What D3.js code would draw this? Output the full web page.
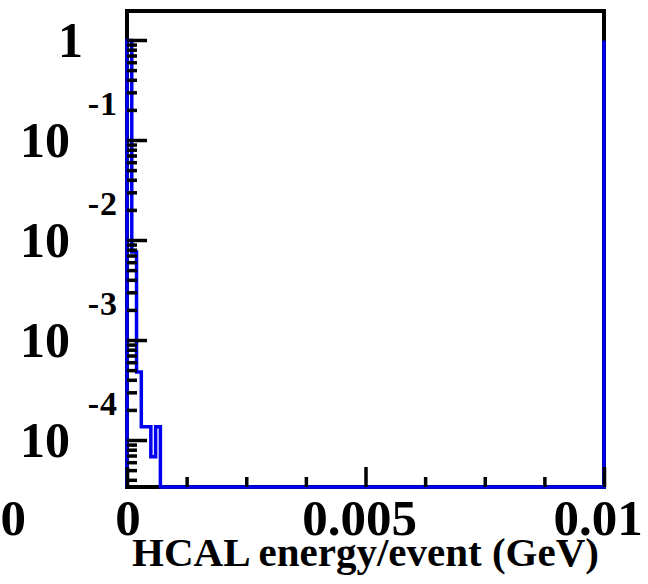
<!DOCTYPE html>
<html>
<head>
<meta charset="utf-8">
<script src="https://cdn.jsdelivr.net/npm/d3@7"></script>
<style>
  html, body { margin: 0; padding: 0; background: #fff; }
  svg { display: block; }
  text { font-family: "Liberation Serif", "Times New Roman", serif; font-weight: bold; fill: #000; }
</style>
</head>
<body>
<svg id="chart" width="648" height="584"></svg>
<script>
// Histogram of HCAL energy per event (normalised), log y axis
const binWidth = 0.0001;                 // GeV
const binStarts = [0, 0.0001, 0.0002, 0.0003, 0.0004, 0.0005, 0.0006];
const binValues = [0.99, 0.0076, 4.8e-4, 1.36e-4, 1.36e-4, 6.8e-5, 1.36e-4];
const histEnd = 0.01;                    // end of histogram range
const rightEdgeValue = 0.99;             // contour level drawn at the range end

const xDomain = [0, 0.01];
const yDomain = [3.39e-5, 1.95];
const xMajorTicks = [0, 0.005, 0.01];
const xTickLabels = ["0", "0.005", "0.01"];
const xMinorTicks = [0.00125, 0.0025, 0.00375, 0.00625, 0.0075, 0.00875];
const yMajorExponents = [0, -1, -2, -3, -4];
const xTitle = "HCAL energy/event (GeV)";

const W = 648, H = 584;
const plot = { left: 127, right: 604, top: 11, bottom: 487 };

const svg = d3.select("#chart");

const x = d3.scaleLinear().domain(xDomain).range([plot.left, plot.right]);
const y = d3.scaleLog().domain(yDomain).range([plot.bottom, plot.top]);

// frame
svg.append("rect")
  .attr("x", plot.left).attr("y", plot.top)
  .attr("width", plot.right - plot.left).attr("height", plot.bottom - plot.top)
  .attr("fill", "none").attr("stroke", "#000").attr("stroke-width", 4);

// histogram contour
const yv = v => y(Math.max(v, yDomain[0]));
const pts = [[x(0), plot.bottom]];
binValues.forEach((v, i) => {
  pts.push([x(binStarts[i]), yv(v)]);
  pts.push([x(binStarts[i] + binWidth), yv(v)]);
});
const lastEdge = binStarts[binStarts.length - 1] + binWidth;
pts.push([x(lastEdge), plot.bottom]);
pts.push([x(histEnd), plot.bottom]);
pts.push([x(histEnd), yv(rightEdgeValue)]);

svg.append("path")
  .attr("d", d3.line()(pts))
  .attr("fill", "none")
  .attr("stroke", "#0000f0")
  .attr("stroke-width", 3.5)
  .attr("stroke-linejoin", "miter");

// y ticks (inside, pointing right)
const yMajor = yMajorExponents.map(e => Math.pow(10, e));
const yMinor = [];
for (let e = -5; e <= 0; e++) {
  for (let m = 2; m <= 9; m++) {
    const v = m * Math.pow(10, e);
    if (v > yDomain[0] && v < yDomain[1]) yMinor.push(v);
  }
}
function styleAxis(g) {
  g.select(".domain").remove();
  g.selectAll(".tick line").attr("stroke", "#000").attr("stroke-width", 3.5);
  g.selectAll(".tick text").remove();
}
svg.append("g").attr("transform", `translate(${plot.left},0)`)
  .call(d3.axisRight(y).tickValues(yMajor).tickSize(20).tickFormat(""))
  .call(styleAxis);
svg.append("g").attr("transform", `translate(${plot.left},0)`)
  .call(d3.axisRight(y).tickValues(yMinor).tickSize(10).tickFormat(""))
  .call(styleAxis);

// x ticks (inside, pointing up)
svg.append("g").attr("transform", `translate(0,${plot.bottom})`)
  .call(d3.axisTop(x).tickValues(xMajorTicks).tickSize(20).tickFormat(""))
  .call(styleAxis);
svg.append("g").attr("transform", `translate(0,${plot.bottom})`)
  .call(d3.axisTop(x).tickValues(xMinorTicks).tickSize(10).tickFormat(""))
  .call(styleAxis);

// y tick labels: 1, 10^-1 ... 10^-4
yMajorExponents.forEach(e => {
  const ty = y(Math.pow(10, e));
  if (e === 0) {
    svg.append("text").attr("x", 83).attr("y", ty + 17)
      .attr("text-anchor", "end").style("font-size", "50px").text("1");
  } else {
    svg.append("text").attr("x", 70).attr("y", ty + 17)
      .attr("text-anchor", "end").style("font-size", "50px").text("10");
    svg.append("text").attr("x", 118).attr("y", ty - 25)
      .attr("text-anchor", "end").style("font-size", "34px")
      .style("letter-spacing", "1px").text("-" + Math.abs(e));
  }
});

// x tick labels
svg.append("g").selectAll("text")
  .data(xMajorTicks)
  .join("text")
  .attr("x", d => x(d))
  .attr("dx", d => d === 0 ? 1 : -6)
  .attr("y", 535)
  .attr("text-anchor", "middle")
  .style("font-size", "51px")
  .text((d, i) => xTickLabels[i]);

// label of the neighbouring panel, clipped by the page edge
svg.append("text").attr("x", 26).attr("y", 535)
  .attr("text-anchor", "end").style("font-size", "51px").text("00");

// x axis title
svg.append("text")
  .attr("x", (plot.left + plot.right) / 2)
  .attr("y", 566)
  .attr("text-anchor", "middle")
  .style("font-size", "41px")
  .text(xTitle);
</script>
</body>
</html>
